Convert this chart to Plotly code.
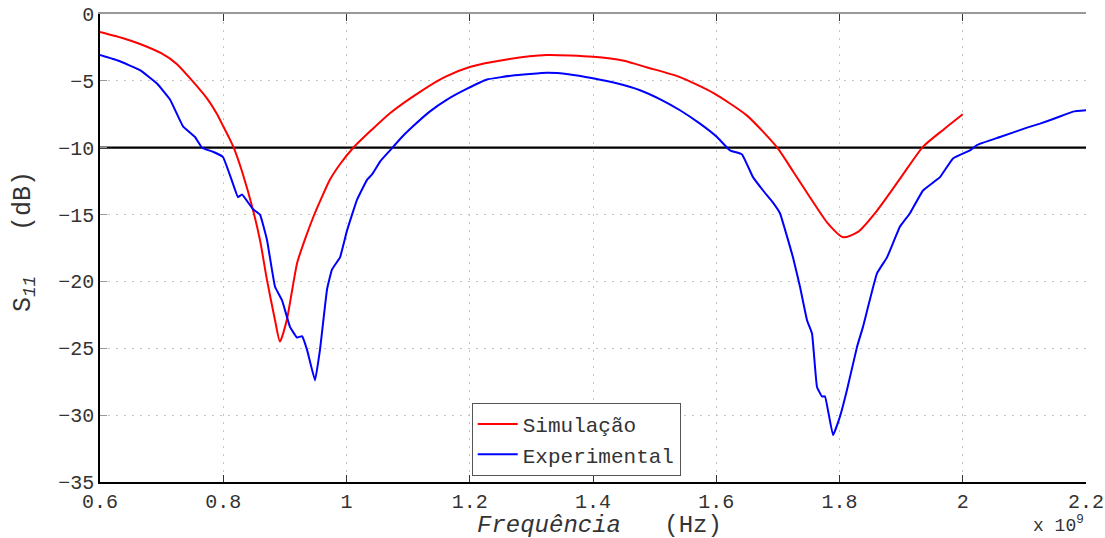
import plotly.graph_objects as go

# Simulated S11 (frequency in GHz -> plotted in Hz, dB)
sim_f = [0.600, 0.640, 0.665, 0.700, 0.725, 0.746, 0.775, 0.790, 0.800, 0.810, 0.817,
         0.832, 0.848, 0.860, 0.871, 0.884, 0.892, 0.903, 0.912, 0.920, 0.933, 0.946,
         0.960, 0.973, 0.990, 1.011, 1.040, 1.071, 1.120, 1.160, 1.200, 1.260, 1.325,
         1.400, 1.450, 1.488, 1.540, 1.595, 1.650, 1.699, 1.725, 1.752, 1.780, 1.806,
         1.830, 1.861, 1.900, 1.936, 1.970, 2.000]
sim_db = [-1.35, -1.85, -2.24, -2.95, -3.75, -4.8, -6.4, -7.5, -8.4, -9.3, -10.0,
          -12.0, -14.6, -17.0, -19.9, -22.9, -24.5, -22.9, -20.6, -18.6, -16.8, -15.2,
          -13.7, -12.4, -11.2, -10.0, -8.7, -7.4, -5.8, -4.7, -3.96, -3.4, -3.07,
          -3.2, -3.5, -4.0, -4.7, -5.9, -7.6, -10.0, -11.8, -13.7, -15.6, -16.7,
          -16.3, -14.7, -12.2, -9.9, -8.6, -7.5]

# Measured S11
exp_f = [0.600, 0.630, 0.665, 0.6925, 0.7136, 0.7347, 0.7542, 0.7655, 0.7834, 0.7996, 0.8158,
         0.8239, 0.8304, 0.8483, 0.8596, 0.8710, 0.8840, 0.8953, 0.9083, 0.9197, 0.9278,
         0.9359, 0.9489, 0.9570, 0.9684, 0.9765, 0.9895, 1.0008, 1.0170, 1.0333, 1.0414,
         1.0550, 1.0706, 1.0900, 1.1079, 1.1350, 1.1631, 1.1950, 1.2280, 1.2700, 1.3254,
         1.3600, 1.4000, 1.4400, 1.4763, 1.5100, 1.5412, 1.5736, 1.6012,
         1.6223, 1.6418, 1.6596, 1.6760, 1.6921, 1.7034, 1.7245, 1.7359, 1.7473, 1.7554, 1.7635,
         1.7716, 1.7765, 1.7895, 1.8008, 1.8122, 1.8284, 1.8381, 1.8608, 1.8771, 1.8982,
         1.9144, 1.9355, 1.9631, 1.9842, 2.0118, 2.0231, 2.0604, 2.1043, 2.1254, 2.1500,
         2.1789, 2.2000]
exp_db = [-3.07, -3.5, -4.2, -5.2, -6.4, -8.4, -9.2, -10.0, -10.3, -10.7, -12.7,
          -13.7, -13.5, -14.6, -15.0, -16.9, -20.4, -21.4, -23.4, -24.2, -24.1,
          -25.1, -27.4, -25.1, -20.6, -19.1, -18.2, -16.2, -13.9, -12.4, -12.0,
          -11.0, -10.2, -9.2, -8.4, -7.3, -6.4, -5.6, -4.9, -4.6, -4.4,
          -4.5, -4.8, -5.2, -5.7, -6.4, -7.2, -8.2, -9.2,
          -10.2, -10.5, -12.2, -13.2, -14.1, -14.9, -18.2, -20.4, -22.9, -23.9, -27.9,
          -28.6, -28.6, -31.5, -30.1, -28.1, -24.9, -23.4, -19.4, -18.2, -15.9,
          -14.9, -13.2, -12.2, -10.8, -10.2, -9.8, -9.2, -8.5, -8.2, -7.8,
          -7.3, -7.2]

ref_level = -10
x_ticks = [0.6, 0.8, 1.0, 1.2, 1.4, 1.6, 1.8, 2.0, 2.2]
x_tick_text = ["0.6", "0.8", "1", "1.2", "1.4", "1.6", "1.8", "2", "2.2"]
y_ticks = [0, -5, -10, -15, -20, -25, -30, -35]

GHZ = 1e9
MONO = "Courier New, Liberation Mono, monospace"
TXT = "#333333"
GRID = "#c4c4c4"

fig = go.Figure()
fig.add_trace(go.Scatter(x=[x_ticks[0] * GHZ, x_ticks[-1] * GHZ], y=[ref_level, ref_level],
                         mode="lines", line=dict(color="black", width=2.2),
                         showlegend=False, hoverinfo="skip"))
fig.add_trace(go.Scatter(x=[f * GHZ for f in sim_f], y=sim_db, mode="lines",
                         line=dict(color="#ff0000", width=2, shape="spline", smoothing=0.6),
                         name="Simulação"))
fig.add_trace(go.Scatter(x=[f * GHZ for f in exp_f], y=exp_db, mode="lines",
                         line=dict(color="#0000ff", width=2, shape="spline", smoothing=0.3),
                         name="Experimental"))
fig.add_trace(go.Scatter(x=[x_ticks[0] * GHZ], y=[0], xaxis="x2", mode="markers",
                         marker=dict(opacity=0), showlegend=False, hoverinfo="skip"))

fig.update_layout(
    width=1105, height=538,
    margin=dict(l=100, r=19, t=14, b=56),
    plot_bgcolor="white", paper_bgcolor="white",
    font=dict(family=MONO, size=20, color=TXT),
    xaxis=dict(range=[x_ticks[0] * GHZ, x_ticks[-1] * GHZ], automargin=False,
               tickvals=[v * GHZ for v in x_ticks], ticktext=x_tick_text,
               showline=True, linecolor="black", linewidth=1.5,
               ticks="inside", ticklen=7, tickcolor=TXT,
               showgrid=True, gridcolor=GRID, griddash="2px,6px", gridwidth=1,
               zeroline=False,
               tickfont=dict(family=MONO, size=20, color=TXT)),
    xaxis2=dict(overlaying="x", side="top", range=[x_ticks[0] * GHZ, x_ticks[-1] * GHZ],
                automargin=False,
                tickvals=[v * GHZ for v in x_ticks], showticklabels=False,
                showline=True, linecolor="#999999", linewidth=1.5,
                ticks="inside", ticklen=7, tickcolor=TXT,
                showgrid=False, zeroline=False),
    yaxis=dict(range=[-35, 0], tickvals=y_ticks, automargin=False,
               showline=True, linecolor="black", linewidth=1.5,
               ticks="inside", ticklen=7, tickcolor="#999999",
               showgrid=True, gridcolor=GRID, griddash="2px,6px", gridwidth=1,
               zeroline=False,
               tickfont=dict(family=MONO, size=20, color=TXT)),
    legend=dict(x=0.377, y=0.013, xanchor="left", yanchor="bottom",
                bgcolor="white", bordercolor="#555555", borderwidth=1,
                font=dict(family=MONO, size=21, color=TXT),
                tracegroupgap=0, itemwidth=40),
    annotations=[
        dict(text="x 10<sup>9</sup>", xref="paper", yref="paper",
             x=1.0, y=-0.09, xanchor="right", yanchor="middle", showarrow=False,
             font=dict(family=MONO, size=18, color=TXT)),
        dict(text="<i>Frequência</i>   (Hz)", xref="paper", yref="paper",
             x=0.507, y=-0.092, xanchor="center", yanchor="middle", showarrow=False,
             font=dict(family=MONO, size=24, color=TXT)),
        dict(text="S<sub><i>11</i></sub>   (dB)", xref="paper", yref="paper",
             x=-0.076, y=0.513, xanchor="center", yanchor="middle", textangle=-90,
             showarrow=False, font=dict(family=MONO, size=25, color=TXT)),
    ],
)

fig.write_html("out.html")
